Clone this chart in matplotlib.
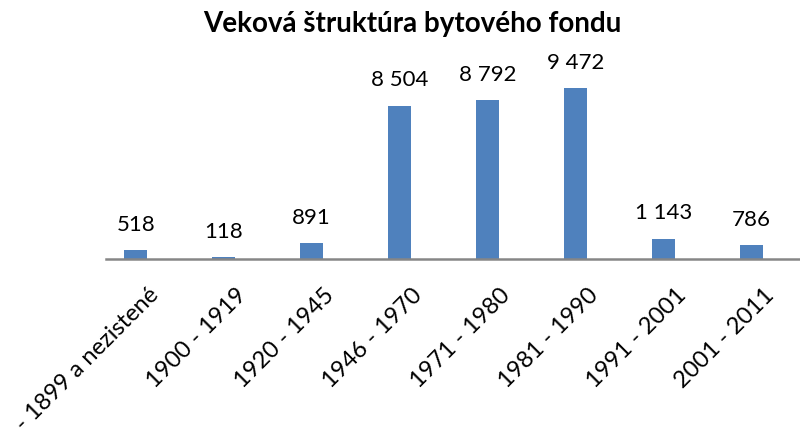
import matplotlib
matplotlib.use("Agg")
import matplotlib.pyplot as plt
from matplotlib.transforms import ScaledTranslation

categories = ["- 1899 a nezistené", "1900 - 1919", "1920 - 1945", "1946 - 1970",
              "1971 - 1980", "1981 - 1990", "1991 - 2001", "2001 - 2011"]
values = [518, 118, 891, 8504, 8792, 9472, 1143, 786]
title = "Veková štruktúra bytového fondu"

plt.rcParams['font.family'] = ['Lato', 'DejaVu Sans']

fig = plt.figure(figsize=(8, 4.3), dpi=100)
ax = fig.add_axes([0.1325, 0.397, 0.8675, 0.4625])
x = list(range(len(categories)))
ax.bar(x, values, width=0.267, color="#4F81BD")
ax.set_xlim(-0.3375, 7.55)
ax.set_ylim(0, 11000)
for xi, v in zip(x, values):
    ax.annotate(f"{v:,}".replace(",", " "), (xi, v), xytext=(0, 11),
                textcoords="offset points", ha="center", va="bottom", fontsize=16)
for s in ["top", "right", "left"]:
    ax.spines[s].set_visible(False)
ax.spines["bottom"].set_color("#868686")
ax.spines["bottom"].set_linewidth(1.8)
ax.set_yticks([])
ax.set_xticks(x)
ax.set_xticklabels(categories, rotation=45, ha="right", va="top",
                   rotation_mode="anchor", fontsize=17)
ax.tick_params(axis="x", length=0, pad=0)
off = ScaledTranslation(0.12, -0.25, fig.dpi_scale_trans)
for lab in ax.get_xticklabels():
    lab.set_transform(lab.get_transform() + off)
fig.text(0.515, 0.975, title, fontsize=20, fontweight="bold", ha="center", va="top")
fig.savefig("out.png", dpi=100)
